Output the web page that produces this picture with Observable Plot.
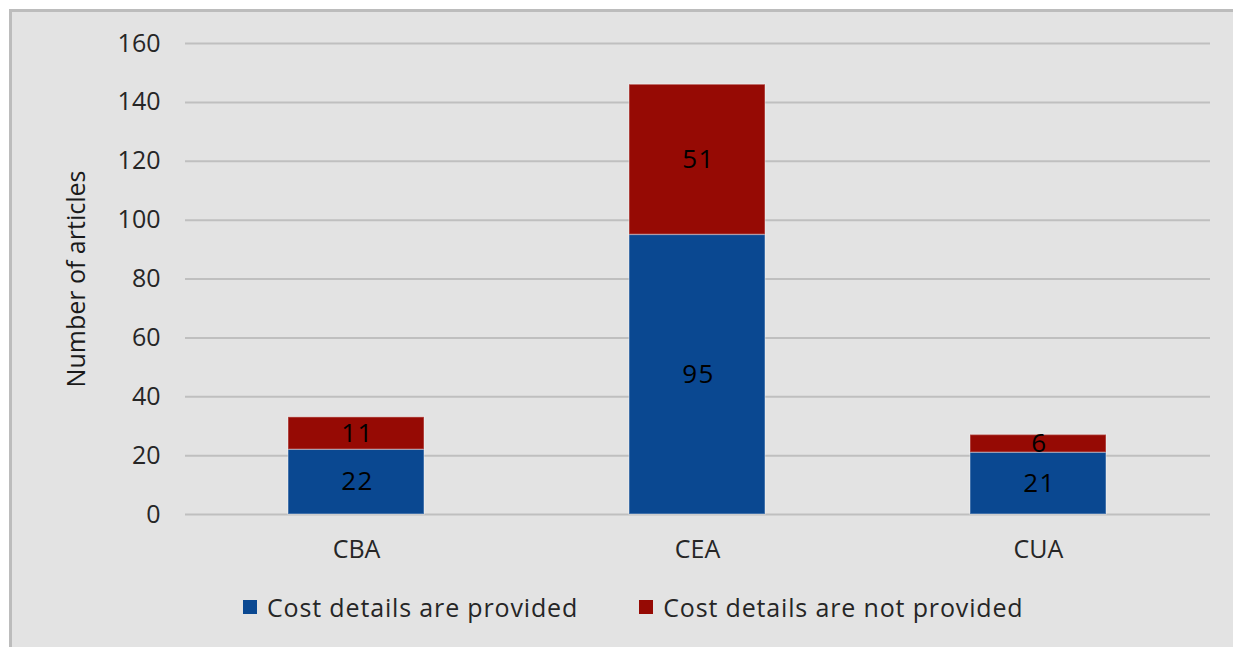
<!DOCTYPE html>
<html>
<head>
<meta charset="utf-8">
<script src="https://cdn.jsdelivr.net/npm/d3@7"></script>
<script src="https://cdn.jsdelivr.net/npm/@observablehq/plot@0.6"></script>
<style>
  html, body { margin: 0; padding: 0; background: #ffffff; }
  #wrap { position: relative; width: 1233px; height: 647px; overflow: hidden; font-family: "Open Sans", sans-serif; }
  #box { position: absolute; left: 9px; top: 9px; width: 1230px; height: 650px; background: #e3e3e3; border-left: 3px solid #bcbcbc; border-top: 3px solid #bcbcbc; box-sizing: border-box; }
  #chart { position: absolute; left: 0; top: 0; }
  #legend { position: absolute; left: 243px; top: 590px; height: 34px; display: flex; align-items: center; gap: 61px; font-size: 25px; line-height: 34px; color: #262626; white-space: nowrap; letter-spacing: 0.85px; }
  .item { display: flex; align-items: center; gap: 10px; }
  .sw { width: 14px; height: 14px; display: inline-block; }
  .barlabel text { letter-spacing: 1.5px; }
</style>
</head>
<body>
<div id="wrap">
  <div id="box"></div>
  <div id="chart"></div>
  <div id="legend"></div>
</div>
<script>
const categories = ["CBA", "CEA", "CUA"];
const seriesNames = ["Cost details are provided", "Cost details are not provided"];
const provided = [22, 95, 21];
const notProvided = [11, 51, 6];
const yTicks = [0, 20, 40, 60, 80, 100, 120, 140, 160];
const colors = ["#0a4891", "#960a04"];
const yLabel = "Number of articles";

const rows = [];
categories.forEach((c, i) => {
  rows.push({cat: c, series: seriesNames[0], value: provided[i]});
  rows.push({cat: c, series: seriesNames[1], value: notProvided[i]});
});

const chart = Plot.plot({
  width: 1233,
  height: 580,
  marginLeft: 185,
  marginRight: 23,
  marginTop: 43,
  marginBottom: 66,
  style: {background: "transparent", fontFamily: "Open Sans, sans-serif", color: "#262626"},
  x: {domain: categories, paddingInner: 0.6, paddingOuter: 0.3, label: null},
  y: {domain: [0, 160], ticks: yTicks, label: null},
  color: {domain: seriesNames, range: colors},
  marks: [
    Plot.gridY(yTicks, {stroke: "#bfbfbf", strokeOpacity: 1, strokeWidth: 2}),
    Plot.axisY(yTicks, {tickSize: 0, tickPadding: 25, fontSize: 25, label: null, fill: "#262626"}),
    Plot.axisX({tickSize: 0, tickPadding: 26, fontSize: 25, label: null, fill: "#262626"}),
    Plot.barY(rows, Plot.stackY({x: "cat", y: "value", fill: "series", z: "series", order: seriesNames, stroke: "#ffffff", strokeOpacity: 0.3, strokeWidth: 1.5})),
    Plot.text(rows, Plot.stackY({x: "cat", y: "value", z: "series", order: seriesNames, text: d => String(d.value), fill: "#000", fontSize: 26, dx: 1, className: "barlabel"})),
    Plot.text([yLabel], {frameAnchor: "left", textAnchor: "middle", rotate: -90, dx: -109, fontSize: 25, fill: "#1a1a1a"})
  ]
});
document.getElementById("chart").appendChild(chart);

const legend = document.getElementById("legend");
seriesNames.forEach((s, i) => {
  const it = document.createElement("div");
  it.className = "item";
  const sw = document.createElement("span");
  sw.className = "sw";
  sw.style.background = colors[i];
  const t = document.createElement("span");
  t.textContent = s;
  it.appendChild(sw);
  it.appendChild(t);
  legend.appendChild(it);
});
</script>
</body>
</html>
